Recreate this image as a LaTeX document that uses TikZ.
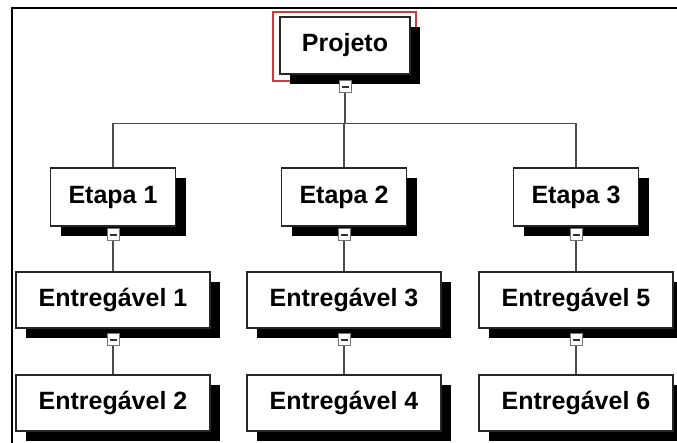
\documentclass[tikz,border=0pt]{standalone}
\usepackage{fontspec}
\setmainfont{Liberation Sans}
\usetikzlibrary{shadows}
\definecolor{selred}{RGB}{205,60,60}

\begin{document}
\begin{tikzpicture}[x=1pt, y=-1pt, semithick,
  box/.style={draw=black!85, line width=1.1pt, fill=white, inner sep=0pt,
    font=\fontsize{25}{30}\selectfont\bfseries,
    drop shadow={shadow xshift=10pt, shadow yshift=-10pt, fill=black, opacity=1}},
  etapa/.style={box, minimum width=125pt, minimum height=58pt},
  entrega/.style={box, minimum width=194pt, minimum height=56pt},
  minibox/.style={draw=black!55, line width=1pt, fill=white, minimum size=12pt, inner sep=0pt,
    path picture={\draw[black!80, line width=1.3pt] ([xshift=-3.5pt]path picture bounding box.center)
      -- ([xshift=3.5pt]path picture bounding box.center);}},
  link/.style={draw=black!70, line width=1.2pt}]
  \useasboundingbox (0,0) rectangle (677,443);
  \draw[line width=1.5pt] (12,443) -- (12,8) -- (677,8);
  \draw[selred, line width=1.4pt] (273,12) rectangle (416,81);
  \node[box, minimum width=130pt, minimum height=57pt] (pro) at (345,45.5) {Projeto};
  \node[minibox] (c0) at (345,87) {};
  \foreach \i/\x/\a/\b in {1/113/1/2, 2/344/3/4, 3/576/5/6} {
    \node[etapa] (et\i) at (\x,197) {Etapa \i};
    \node[minibox] (ce\i) at (\x,235) {};
    \node[entrega] (en\a) at (\x,300) {Entregável \a};
    \node[minibox] (cn\a) at (\x,340) {};
    \node[entrega] (en\b) at (\x,403) {Entregável \b};
    \draw[link] (c0.south) -- ++(0,30) -| (et\i.north);
    \draw[link] (ce\i.south) -- (en\a.north);
    \draw[link] (cn\a.south) -- (en\b.north);
  }
\end{tikzpicture}
\end{document}
